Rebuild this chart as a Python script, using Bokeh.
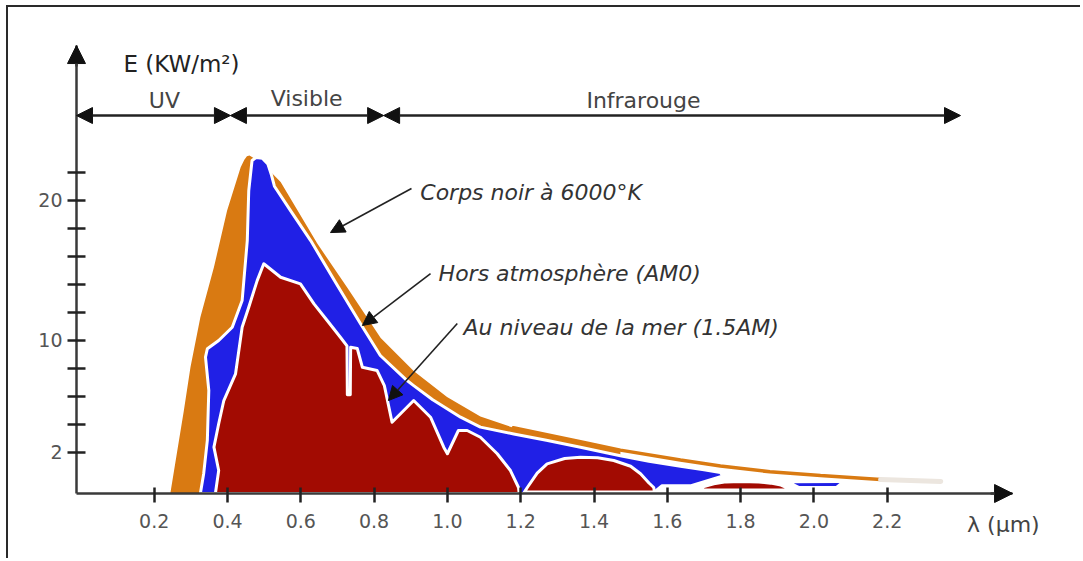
from bokeh.plotting import figure
from bokeh.models import Range1d, FixedTicker, NumeralTickFormatter, Arrow, NormalHead, Label
from bokeh.embed import file_html
from bokeh.resources import INLINE

# ---------------- data ----------------
# axis ticks
X_TICKS = [0.2, 0.4, 0.6, 0.8, 1.0, 1.2, 1.4, 1.6, 1.8, 2.0, 2.2]
Y_TICKS = [2, 10, 20]
Y_MINOR = [4, 6, 8, 12, 14, 16, 18, 22]

# spectral band boundaries (UV | Visible | Infrarouge), in micrometres
BAND_EDGES = [0.0, 0.408, 0.826, 2.40]
BAND_NAMES = ["UV", "Visible", "Infrarouge"]

# black body at 6000 K (top curve)
BB_LAM = [0.244, 0.263, 0.281, 0.299, 0.326, 0.363, 0.399, 0.436, 0.446, 0.453,
          0.460, 0.496, 0.545, 0.645, 0.727, 0.818, 0.908, 0.999, 1.090, 1.180,
          1.363, 1.472, 1.636, 1.745, 1.880, 2.018, 2.182, 2.346]
BB_E = [-0.95, 2.11, 4.98, 8.07, 11.64, 15.21, 19.26, 22.36, 22.9, 23.15,
        23.2, 22.6, 21.3, 16.9, 13.75, 10.15, 7.8, 5.95, 4.55, 3.75,
        2.75, 2.15, 1.45, 1.02, 0.6, 0.34, 0.05, -0.09]

# outside atmosphere (AM0) outline
AM0_LAM = [0.326, 0.335, 0.345, 0.349, 0.340, 0.345, 0.376, 0.413, 0.440, 0.454,
           0.458, 0.467, 0.478, 0.495, 0.510, 0.520, 0.528, 0.572, 0.627, 0.695,
           0.763, 0.817, 0.890, 0.908, 0.960, 1.036, 1.090, 1.181, 1.270, 1.363,
           1.472, 1.550, 1.636, 1.700, 1.745, 1.752, 1.665, 1.585, 1.560]
AM0_E = [-0.95, 0.46, 2.84, 6.41, 8.79, 9.39, 9.98, 10.93, 12.84, 17.12,
         20.69, 22.84, 23.05, 23.0, 22.6, 21.8, 21.0, 19.26, 17.12, 14.12,
         11.17, 8.91, 7.12, 6.76, 5.75, 4.5, 3.79, 3.3, 2.85, 2.35,
         1.75, 1.35, 1.0, 0.75, 0.55, 0.3, -0.4, -0.4, -0.95]
AM0_TAIL_LAM = [1.945, 2.070, 2.060, 1.960]
AM0_TAIL_E = [-0.22, -0.2, -0.42, -0.42]

# sea level (AM1.5) outline, in three parts
AM15_LAM = [0.367, 0.376, 0.363, 0.376, 0.390, 0.422, 0.440, 0.458, 0.481, 0.499,
            0.545, 0.599, 0.636, 0.672, 0.708, 0.726, 0.727, 0.735, 0.736, 0.754,
            0.768, 0.808, 0.828, 0.849, 0.908, 0.954, 0.990, 1.000, 1.030, 1.054,
            1.090, 1.136, 1.172, 1.194, 1.196]
AM15_E = [-0.95, 0.69, 2.36, 4.03, 5.69, 7.6, 10.93, 12.36, 14.26, 15.46,
          14.5, 14.03, 12.6, 11.41, 10.21, 9.6, 6.1, 6.1, 9.5, 9.41,
          8.07, 7.84, 6.76, 4.14, 5.69, 4.5, 2.36, 1.89, 3.55, 3.55,
          3.07, 1.89, 0.69, -0.52, -0.95]
AM15_B1_LAM = [1.210, 1.218, 1.245, 1.272, 1.320, 1.363, 1.410, 1.454, 1.500, 1.527,
               1.550, 1.563, 1.565]
AM15_B1_E = [-0.85, -0.52, 0.5, 1.17, 1.55, 1.64, 1.6, 1.41, 1.0, 0.46,
             -0.2, -0.52, -0.85]
AM15_B2_LAM = [1.690, 1.700, 1.727, 1.760, 1.800, 1.850, 1.882, 1.910, 1.927, 1.930]
AM15_B2_E = [-0.7, -0.45, -0.26, -0.12, -0.09, -0.12, -0.21, -0.35, -0.54, -0.7]

# ---------------- styles / layout ----------------
ORANGE = "#D97A12"
BLUE = "#2020E6"
RED = "#A20B02"
AXIS = "#3a3a3a"
INK = "#222222"
HEAD = "#111111"
FONT = "DejaVu Sans"

# where the drawn axes cross, and where their arrows end
AXIS_X, AXIS_Y = -0.012, -0.95
TIP_X, TIP_Y = 2.542, 31.05
# visible area (larger than the axes so arrow heads and labels are not clipped)
X0, X1 = -0.1211, 2.6728
Y0, Y1 = -4.45, 31.41

p = figure(width=1074, height=553, x_range=Range1d(X0, X1), y_range=Range1d(Y0, Y1),
           output_backend="svg", toolbar_location=None,
           min_border_left=28, min_border_right=22, min_border_top=33, min_border_bottom=18,
           outline_line_color=None, background_fill_color="white", border_fill_color="white")
p.margin = (5, 0, 0, 6)
p.styles = {"border-top": "2px solid #2a2a2a", "border-left": "2px solid #2a2a2a"}

p.xgrid.visible = False
p.ygrid.visible = False

# black body fill (left band) -- covered by the other layers where hidden
bb_fill_x = [l for l in BB_LAM if l <= 1.5]
bb_fill_y = BB_E[:len(bb_fill_x)]
bb_fill_x = bb_fill_x + [bb_fill_x[-1]]
bb_fill_y = bb_fill_y + [AXIS_Y]
p.patch(bb_fill_x, bb_fill_y, fill_color=ORANGE, line_color=None)

# AM0
p.patch(AM0_LAM, AM0_E, fill_color=BLUE, line_color="white", line_width=3, line_join="round")
p.patch(AM0_TAIL_LAM, AM0_TAIL_E, fill_color=BLUE, line_color=None)

# AM1.5
for lx, ly in [(AM15_LAM, AM15_E), (AM15_B1_LAM, AM15_B1_E), (AM15_B2_LAM, AM15_B2_E)]:
    p.patch(lx, ly, fill_color=RED, line_color="white", line_width=3, line_join="round")

# black body line on the right side
tail_start = BB_LAM.index(1.180)
tail_end = BB_LAM.index(2.182)
p.line(BB_LAM[tail_start:tail_end + 1], BB_E[tail_start:tail_end + 1],
       line_color=ORANGE, line_width=3.5, line_cap="round")
p.line(BB_LAM[tail_end:], BB_E[tail_end:], line_color="#ece6df", line_width=5, line_cap="round")

# ---------------- axes ----------------
for ax in (p.xaxis[0], p.yaxis[0]):
    ax.axis_line_width = 2.5
    ax.axis_line_color = AXIS
    ax.major_tick_line_width = 2.5
    ax.major_tick_line_color = INK
    ax.minor_tick_line_width = 2.5
    ax.minor_tick_line_color = INK
    ax.major_label_text_font = FONT
    ax.major_label_text_font_size = "19px"
    ax.major_label_text_color = "#555555"

xa = p.xaxis[0]
xa.fixed_location = AXIS_Y
xa.bounds = (AXIS_X, TIP_X)
xa.ticker = FixedTicker(ticks=X_TICKS)
xa.formatter = NumeralTickFormatter(format="0.0")
xa.major_tick_in = 6
xa.major_tick_out = 9
xa.minor_tick_in = 0
xa.minor_tick_out = 0
xa.major_label_standoff = 11

ya = p.yaxis[0]
ya.fixed_location = AXIS_X
ya.bounds = (AXIS_Y, TIP_Y)
ya.ticker = FixedTicker(ticks=Y_TICKS, minor_ticks=Y_MINOR)
ya.major_tick_in = 9
ya.major_tick_out = 9
ya.minor_tick_in = 9
ya.minor_tick_out = 9
ya.major_label_standoff = 5

# axis arrow heads
p.add_layout(Arrow(end=NormalHead(size=18, fill_color=HEAD, line_color=HEAD),
                   x_start=AXIS_X, y_start=TIP_Y - 1.5, x_end=AXIS_X, y_end=TIP_Y,
                   line_color=AXIS, line_width=2.5))
p.add_layout(Arrow(end=NormalHead(size=18, fill_color=HEAD, line_color=HEAD),
                   x_start=TIP_X - 0.06, y_start=AXIS_Y, x_end=TIP_X, y_end=AXIS_Y,
                   line_color=AXIS, line_width=2.5))

# band arrows
BAND_Y = 26.05
edges = [AXIS_X] + BAND_EDGES[1:]
for i, name in enumerate(BAND_NAMES):
    a, b = edges[i], edges[i + 1]
    p.add_layout(Arrow(start=NormalHead(size=16, fill_color=HEAD, line_color=HEAD),
                       end=NormalHead(size=16, fill_color=HEAD, line_color=HEAD),
                       x_start=a, y_start=BAND_Y, x_end=b, y_end=BAND_Y,
                       line_color=INK, line_width=2.5))
BAND_LABEL_X = [0.228, 0.616, 1.535]
BAND_LABEL_Y = [27.15, 27.3, 27.1]
for name, bx, by in zip(BAND_NAMES, BAND_LABEL_X, BAND_LABEL_Y):
    p.add_layout(Label(x=bx, y=by, text=name, text_font=FONT, text_font_size="22px",
                       text_color="#444444", text_align="center", text_baseline="middle"))

# axis titles
p.add_layout(Label(x=0.116, y=29.7, text="E (KW/m²)", text_font=FONT, text_font_size="23px",
                   text_color="#222222", text_align="left", text_baseline="middle"))
p.add_layout(Label(x=2.517, y=-3.15, text="λ (µm)", text_font=FONT, text_font_size="22px",
                   text_color="#444444", text_align="center", text_baseline="middle"))

# curve annotations
ANNOT = [
    ("Corps noir à 6000°K", 0.926, 20.55, 0.902, 20.84, 0.681, 17.69),
    ("Hors atmosphère (AM0)", 0.976, 14.76, 0.954, 14.76, 0.768, 11.05),
    ("Au niveau de la mer (1.5AM)", 1.044, 10.91, 1.027, 11.19, 0.839, 5.69),
]
for txt, tx, ty, xs, ys, xe, ye in ANNOT:
    p.add_layout(Arrow(end=NormalHead(size=14, fill_color=HEAD, line_color=HEAD),
                       x_start=xs, y_start=ys, x_end=xe, y_end=ye,
                       line_color=INK, line_width=1.6))
    p.add_layout(Label(x=tx, y=ty, text=txt, text_font=FONT, text_font_size="22px",
                       text_font_style="italic", text_color="#333333", text_align="left",
                       text_baseline="middle"))

open("out.html", "w").write(file_html(p, INLINE))
